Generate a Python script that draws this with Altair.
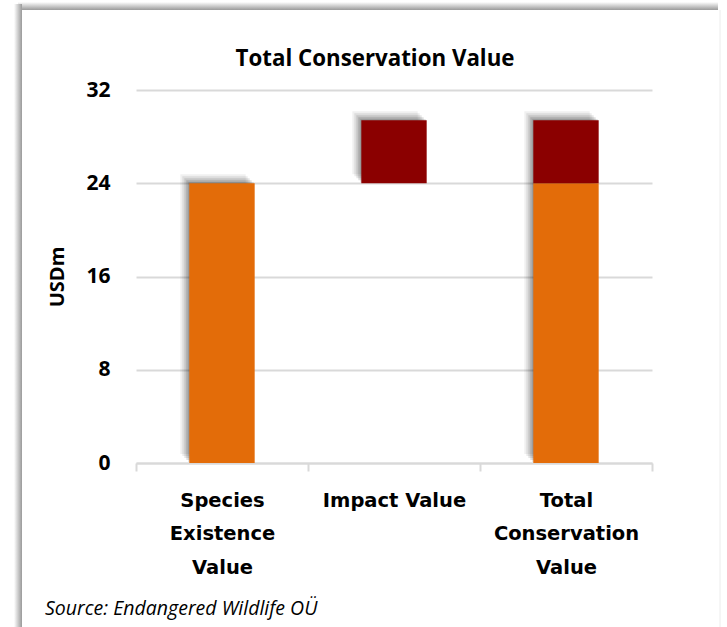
import altair as alt
import pandas as pd

# Waterfall components (USD millions)
categories = ["Species Existence Value", "Impact Value", "Total Conservation Value"]
existence_value = 24.0
impact_value = 5.4
total_value = existence_value + impact_value

y_ticks = [0, 8, 16, 24, 32]
part_names = ["Existence", "Impact"]
part_colors = ["#E36C09", "#8B0000"]

chart_title = "Total Conservation Value"
source_note = "Source: Endangered Wildlife OÜ"

# Segments: one row per coloured piece of each column
segments = pd.DataFrame({
    "category": [categories[0], categories[1], categories[2], categories[2]],
    "part": ["Existence", "Impact", "Existence", "Impact"],
    "start": [0.0, existence_value, 0.0, existence_value],
    "end": [existence_value, total_value, existence_value, total_value],
})

# Outline of each whole column, used for the soft drop shadow
outlines = pd.DataFrame({
    "category": categories,
    "start": [0.0, existence_value, 0.0],
    "end": [existence_value, total_value, total_value],
})

FONT = "Open Sans"
LABEL_FONT = "DejaVu Sans"
GRID = "#d9d9d9"
BAR_FRACTION = 0.38

x_enc = alt.X(
    "category:N",
    sort=categories,
    scale=alt.Scale(paddingInner=0, paddingOuter=0),
    axis=alt.Axis(
        title=None,
        labelAngle=0,
        labelFont=LABEL_FONT,
        labelFontSize=19.5,
        labelFontWeight="bold",
        labelColor="#000000",
        labelLineHeight=33.5,
        labelPadding=20,
        labelLimit=300,
        labelExpr="datum.label == 'Impact Value' ? datum.label : split(datum.label, ' ')",
        domainColor=GRID,
        domainWidth=2,
        tickColor=GRID,
        tickWidth=2,
        tickSize=8,
        tickBand="extent",
        grid=False,
    ),
)

y_scale = alt.Scale(domain=[0, 32], nice=False)
y_axis = alt.Axis(
    title="USDm",
    values=y_ticks,
    labelFont=FONT,
    labelFontSize=21,
    labelFontWeight="bold",
    labelColor="#000000",
    labelPadding=26,
    ticks=False,
    domain=False,
    gridColor=GRID,
    gridWidth=2,
    titleFont=FONT,
    titleFontSize=20,
    titleFontWeight="bold",
    titleColor="#000000",
    titlePadding=18,
)

# Soft shadow behind the columns, built from a few offset translucent copies
shadow_layers = []
for off, op in [(-9, 0.06), (-7, 0.08), (-5, 0.10), (-3, 0.13), (-1, 0.15)]:
    shadow_layers.append(
        alt.Chart(outlines)
        .mark_bar(color="#000000", opacity=op, xOffset=off, yOffset=off, y2Offset=off,
                  width=alt.RelativeBandSize(BAR_FRACTION))
        .encode(
            x=x_enc,
            y=alt.Y("start:Q", scale=y_scale, axis=y_axis),
            y2="end:Q",
        )
    )

bars = (
    alt.Chart(segments)
    .mark_bar(width=alt.RelativeBandSize(BAR_FRACTION))
    .encode(
        x=x_enc,
        y=alt.Y("start:Q", scale=y_scale, axis=y_axis),
        y2="end:Q",
        color=alt.Color(
            "part:N",
            scale=alt.Scale(domain=part_names, range=part_colors),
            legend=None,
        ),
    )
)

one = pd.DataFrame({"k": [0]})

# Card edge shading along the top and left sides of the panel
top_shade = alt.Chart(one).mark_rect(
    color=alt.Gradient(
        gradient="linear",
        stops=[alt.GradientStop(color="#ffffff", offset=0),
               alt.GradientStop(color="#9a9a9a", offset=1)],
        x1=0, x2=0, y1=0, y2=1,
    )
).encode(x=alt.value(-118), x2=alt.value(582), y=alt.value(-88), y2=alt.value(-80))

left_shade = alt.Chart(one).mark_rect(
    color=alt.Gradient(
        gradient="linear",
        stops=[alt.GradientStop(color="#ffffff", offset=0),
               alt.GradientStop(color="#9a9a9a", offset=1)],
        x1=0, x2=1, y1=0, y2=0,
    )
).encode(x=alt.value(-122), x2=alt.value(-114), y=alt.value(-86), y2=alt.value(560))

right_edge = alt.Chart(one).mark_rule(
    color="#ececec", strokeWidth=1
).encode(x=alt.value(584), y=alt.value(-80), y2=alt.value(560))

title = alt.Chart(pd.DataFrame({"t": [chart_title]})).mark_text(
    align="center", baseline="alphabetic", font=FONT, fontSize=22.3, fontWeight="bold",
    color="#000000",
).encode(text="t:N", x=alt.value(239), y=alt.value(-24))

source = alt.Chart(pd.DataFrame({"t": [source_note]})).mark_text(
    align="left", baseline="alphabetic", font=FONT, fontSize=19.5, fontStyle="italic",
    color="#000000",
).encode(text="t:N", x=alt.value(-91), y=alt.value(525))

chart = (
    alt.layer(top_shade, left_shade, right_edge, *shadow_layers, bars, title, source)
    .properties(
        width=516,
        height=373,
        padding={"left": 136, "top": 90, "right": 75, "bottom": 164},
        autosize=alt.AutoSizeParams(type="none"),
        background="#ffffff",
    )
    .configure_view(stroke=None)
)

chart.save("out.html", embed_options={"renderer": "svg", "actions": False})
